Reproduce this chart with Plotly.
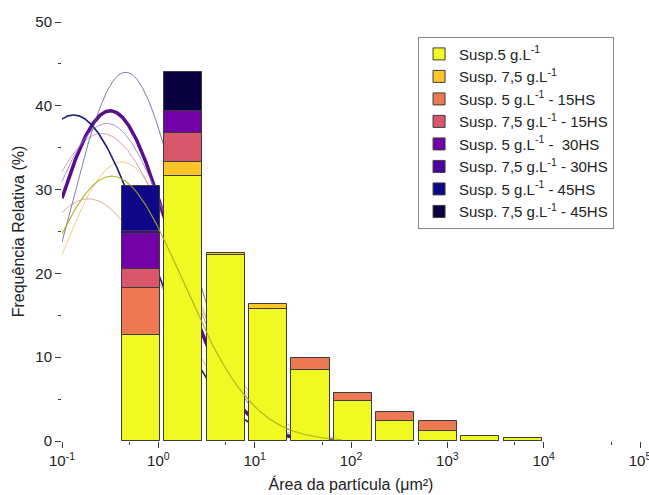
import numpy as np
import plotly.graph_objects as go

# Bin centres of the particle-area histogram (µm²)
area_um2 = [0.66, 1.80, 5.05, 13.8, 38.0, 105.0, 287.0, 793.0, 2193.0, 6053.0]
bar_width_decades = 0.395

# Relative frequency (%) per bin for each suspension
susp5 = [12.7, 31.6, 22.2, 15.7, 8.5, 4.77, 2.38, 1.23, 0.64, 0.30]
susp75 = [11.0, 33.3, 22.4, 16.3, 8.0, 4.5, 2.2, 1.1, 0.5, 0.3]
susp5_15hs = [18.3, 28.0, 18.0, 13.0, 9.85, 5.76, 3.5, 2.38, 0.5, 0.2]
susp75_15hs = [20.5, 36.7, 20.0, 12.0, 6.0, 3.0, 1.5, 0.3, None, None]
susp5_30hs = [24.7, 39.4, 20.0, 9.0, 4.0, 2.0, 0.9, None, None, None]
susp75_30hs = [25.1, 38.0, 21.0, 11.0, 3.5, 1.4, None, None, None, None]
susp5_45hs = [30.4, 36.0, 20.0, 9.0, 3.5, 1.1, None, None, None, None]
susp75_45hs = [24.0, 44.0, 20.0, 9.0, 2.5, 0.5, None, None, None, None]

series_labels = [
    "Susp.5 g.L<sup>-1</sup>",
    "Susp. 7,5 g.L<sup>-1</sup>",
    "Susp. 5 g.L<sup>-1</sup> - 15HS",
    "Susp. 7,5 g.L<sup>-1</sup> - 15HS",
    "Susp. 5 g.L<sup>-1</sup> -\u00a0 30HS",
    "Susp. 7,5 g.L<sup>-1</sup> - 30HS",
    "Susp. 5 g.L<sup>-1</sup> - 45HS",
    "Susp. 7,5 g.L<sup>-1</sup> - 45HS",
]
series_values = [susp5, susp75, susp5_15hs, susp75_15hs,
                 susp5_30hs, susp75_30hs, susp5_45hs, susp75_45hs]
bar_colors = ["#f0f921", "#fdc527", "#ed7953", "#d8576b",
              "#7301a8", "#4c02a1", "#0d0887", "#08003f"]

# Log-normal fits (Gaussian in log10 of area): amplitude, centre, width
fit_amp = [31.6, 33.3, 28.9, 36.7, 39.4, 37.9, 38.9, 44.0]
fit_center = [-0.484, -0.38, -0.727, -0.588, -0.50, -0.536, -0.88, -0.339]
fit_sigma = [0.735, 0.689, 0.80, 0.80, 0.638, 0.73, 0.76, 0.595]
fit_colors = ["rgba(170,170,30,0.85)", "rgba(225,190,100,0.75)",
              "rgba(210,140,125,0.75)", "rgba(205,130,145,0.75)",
              "#5b0b8e", "rgba(150,130,210,0.85)",
              "#1e1e78", "rgba(80,80,130,0.75)"]
fit_widths = [1.2, 1.0, 1.0, 1.0, 3.5, 1.0, 1.6, 1.0]
fit_range = (-1.0, 1.9)

x_bins = np.log10(area_um2)
x_fit = np.linspace(fit_range[0], fit_range[1], 400)


def fit_curve(k):
    return fit_amp[k] * np.exp(-((x_fit - fit_center[k]) ** 2) / (2 * fit_sigma[k] ** 2))


fig = go.Figure()

# fitted curves drawn behind the bars (all except Susp.5)
for k in range(1, 8):
    fig.add_trace(go.Scatter(x=x_fit, y=fit_curve(k), mode="lines", zorder=0,
                             line=dict(color=fit_colors[k], width=fit_widths[k]),
                             showlegend=False, hoverinfo="skip"))

# overlapping histograms: back (45HS) to front (Susp.5)
for k in reversed(range(8)):
    fig.add_trace(go.Bar(
        x=x_bins, y=series_values[k], width=bar_width_decades, zorder=1,
        name=series_labels[k], legendrank=k + 1,
        marker=dict(color=bar_colors[k], line=dict(color="#3c3c3c", width=1)),
    ))

# Susp.5 fit drawn over the bars
fig.add_trace(go.Scatter(x=x_fit, y=fit_curve(0), mode="lines", zorder=2,
                         line=dict(color=fit_colors[0], width=fit_widths[0]),
                         showlegend=False, hoverinfo="skip"))

decades = [-1, 0, 1, 2, 3, 4, 5]
tick_text = [f"10<sup>{d}</sup>" for d in decades]
minor_ticks = [np.log10(5) + d for d in decades[:-1]]

axis_common = dict(showline=True, linecolor="#3a3a3a", linewidth=1, mirror=True,
                   showgrid=False, zeroline=False, ticks="outside", ticklen=6,
                   tickcolor="#3a3a3a", automargin=False, ticklabeloverflow="allow",
                   tickfont=dict(size=15, color="#222"))

fig.update_layout(
    barmode="overlay",
    bargap=0,
    width=649, height=495,
    margin=dict(l=62, r=9, t=22, b=54),
    paper_bgcolor="white", plot_bgcolor="white",
    font=dict(family="Liberation Sans, Arial, sans-serif", color="#222"),
    xaxis=dict(range=[-1, 5], tickmode="array", tickvals=decades, ticktext=tick_text,
               minor=dict(tickmode="array", tickvals=minor_ticks, ticks="outside",
                          ticklen=3, tickcolor="#3a3a3a"),
               title=dict(text="Área da partícula (μm²)", font=dict(size=16), standoff=10),
               **axis_common),
    yaxis=dict(range=[0, 50], tickmode="linear", tick0=0, dtick=10,
               minor=dict(dtick=5, ticks="outside", ticklen=3, tickcolor="#3a3a3a"),
               title=dict(text="Frequência Relativa (%)", font=dict(size=16), standoff=6),
               **axis_common),
    legend=dict(x=0.616, y=0.965, xanchor="left", yanchor="top",
                bgcolor="white", bordercolor="#888", borderwidth=1,
                font=dict(size=15, color="#222"), itemwidth=30,
                traceorder="normal"),
    showlegend=True,
)

fig.write_html("out.html")
